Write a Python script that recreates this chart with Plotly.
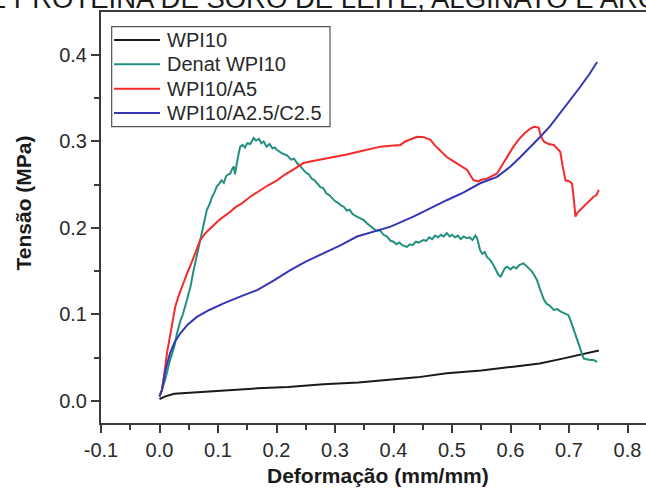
import plotly.graph_objects as go

# ---------------- data ----------------
wpi10_x = [0.000, 0.010, 0.025, 0.047, 0.080, 0.120, 0.167, 0.220, 0.280, 0.340, 0.395,
           0.440, 0.491, 0.550, 0.605, 0.650, 0.691, 0.720, 0.751]
wpi10_y = [0.002, 0.005, 0.008, 0.009, 0.011, 0.0125, 0.0143, 0.016, 0.019, 0.021, 0.024,
           0.027, 0.0317, 0.035, 0.0394, 0.043, 0.049, 0.053, 0.058]

denat_x = [0.000, 0.004, 0.010, 0.018, 0.025, 0.030, 0.036, 0.040, 0.045, 0.050, 0.053, 0.058,
           0.062, 0.066, 0.070, 0.075, 0.081, 0.086, 0.090, 0.094, 0.098, 0.102, 0.106, 0.110,
           0.114, 0.118, 0.121, 0.124, 0.127, 0.129, 0.132, 0.135, 0.138, 0.142, 0.146, 0.150,
           0.155, 0.161, 0.165, 0.170, 0.174, 0.178, 0.183, 0.188, 0.193, 0.197, 0.201, 0.210,
           0.218, 0.225, 0.230, 0.235, 0.240, 0.245, 0.250, 0.255, 0.260, 0.265, 0.269, 0.275,
           0.280, 0.285, 0.290, 0.295, 0.300, 0.305, 0.310, 0.315, 0.320, 0.325, 0.330, 0.335,
           0.340, 0.345, 0.349, 0.355, 0.360, 0.365, 0.370, 0.377, 0.383, 0.389, 0.395, 0.400,
           0.405, 0.410, 0.415, 0.423, 0.428, 0.433, 0.438, 0.443, 0.451, 0.456, 0.461, 0.466,
           0.471, 0.476, 0.481, 0.486, 0.491, 0.496, 0.500, 0.505, 0.510, 0.515, 0.520, 0.525,
           0.530, 0.535, 0.540, 0.543, 0.546, 0.548, 0.552, 0.556, 0.560, 0.565, 0.570, 0.575,
           0.579, 0.583, 0.587, 0.590, 0.594, 0.600, 0.605, 0.610, 0.615, 0.622, 0.627, 0.632,
           0.636, 0.640, 0.645, 0.650, 0.654, 0.657, 0.662, 0.667, 0.674, 0.680, 0.686, 0.693,
           0.699, 0.703, 0.707, 0.711, 0.714, 0.718, 0.722, 0.725, 0.730, 0.736, 0.742, 0.748]
denat_y = [0.005, 0.012, 0.025, 0.047, 0.062, 0.078, 0.093, 0.100, 0.112, 0.124, 0.132, 0.150,
           0.163, 0.172, 0.186, 0.205, 0.221, 0.228, 0.236, 0.241, 0.248, 0.251, 0.255, 0.252,
           0.260, 0.262, 0.263, 0.268, 0.271, 0.262, 0.276, 0.285, 0.294, 0.296, 0.293, 0.298,
           0.297, 0.304, 0.301, 0.303, 0.298, 0.300, 0.294, 0.297, 0.292, 0.293, 0.290, 0.286,
           0.284, 0.279, 0.280, 0.275, 0.272, 0.268, 0.264, 0.262, 0.257, 0.255, 0.252, 0.247,
           0.246, 0.240, 0.238, 0.234, 0.231, 0.229, 0.226, 0.2245, 0.220, 0.221, 0.216, 0.214,
           0.212, 0.210, 0.209, 0.205, 0.202, 0.199, 0.197, 0.197, 0.192, 0.190, 0.185, 0.184,
           0.181, 0.183, 0.180, 0.178, 0.181, 0.180, 0.184, 0.183, 0.186, 0.185, 0.189, 0.187,
           0.191, 0.189, 0.192, 0.190, 0.194, 0.190, 0.192, 0.189, 0.191, 0.187, 0.190, 0.188,
           0.189, 0.186, 0.191, 0.188, 0.180, 0.174, 0.170, 0.172, 0.166, 0.163, 0.158, 0.151,
           0.146, 0.1435, 0.150, 0.153, 0.155, 0.152, 0.155, 0.153, 0.157, 0.159, 0.156, 0.153,
           0.150, 0.146, 0.140, 0.130, 0.122, 0.117, 0.112, 0.110, 0.105, 0.106, 0.103, 0.101,
           0.099, 0.092, 0.084, 0.076, 0.070, 0.062, 0.054, 0.049, 0.048, 0.047, 0.047, 0.045]

a5_x = [0.000, 0.004, 0.008, 0.0128, 0.018, 0.022, 0.027, 0.033, 0.040, 0.047, 0.055, 0.062,
        0.0697, 0.080, 0.090, 0.100, 0.1096, 0.120, 0.130, 0.140, 0.155, 0.170, 0.185, 0.201,
        0.215, 0.230, 0.246, 0.260, 0.275, 0.290, 0.303, 0.320, 0.340, 0.360, 0.3775, 0.395,
        0.412, 0.420, 0.430, 0.440, 0.452, 0.463, 0.470, 0.480, 0.491, 0.500, 0.510, 0.520,
        0.526, 0.532, 0.537, 0.545, 0.552, 0.560, 0.570, 0.577, 0.585, 0.595, 0.605, 0.615,
        0.625, 0.634, 0.640, 0.648, 0.652, 0.657, 0.665, 0.674, 0.680, 0.685, 0.689, 0.694,
        0.700, 0.705, 0.708, 0.711, 0.715, 0.719, 0.725, 0.730, 0.736, 0.742, 0.747, 0.751]
a5_y = [0.005, 0.012, 0.030, 0.055, 0.075, 0.092, 0.109, 0.122, 0.135, 0.147, 0.160, 0.172,
        0.186, 0.195, 0.202, 0.208, 0.213, 0.218, 0.224, 0.228, 0.236, 0.243, 0.249, 0.255,
        0.262, 0.268, 0.275, 0.277, 0.279, 0.281, 0.282, 0.285, 0.288, 0.291, 0.294, 0.295,
        0.296, 0.300, 0.303, 0.3055, 0.305, 0.302, 0.296, 0.289, 0.282, 0.278, 0.274, 0.270,
        0.267, 0.260, 0.255, 0.254, 0.256, 0.257, 0.260, 0.263, 0.272, 0.283, 0.294, 0.303,
        0.310, 0.315, 0.317, 0.316, 0.306, 0.300, 0.297, 0.296, 0.292, 0.288, 0.272, 0.255,
        0.254, 0.2516, 0.235, 0.213, 0.218, 0.2207, 0.225, 0.229, 0.232, 0.236, 0.238, 0.244]

a25c25_x = [0.000, 0.004, 0.010, 0.018, 0.026, 0.0356, 0.048, 0.064, 0.085, 0.1096, 0.140,
            0.167, 0.195, 0.2236, 0.250, 0.280, 0.310, 0.3376, 0.3775, 0.395, 0.434, 0.460,
            0.491, 0.520, 0.548, 0.577, 0.600, 0.617, 0.635, 0.651, 0.668, 0.685, 0.702,
            0.719, 0.735, 0.748]
a25c25_y = [0.005, 0.012, 0.035, 0.055, 0.068, 0.078, 0.088, 0.097, 0.105, 0.1127, 0.121,
            0.128, 0.139, 0.151, 0.161, 0.1706, 0.180, 0.190, 0.1976, 0.2014, 0.213, 0.222,
            0.232, 0.241, 0.2516, 0.259, 0.271, 0.282, 0.294, 0.3055, 0.318, 0.3326, 0.347,
            0.363, 0.378, 0.392]

series_names = ["WPI10", "Denat WPI10", "WPI10/A5", "WPI10/A2.5/C2.5"]
x_ticks = [-0.1, 0.0, 0.1, 0.2, 0.3, 0.4, 0.5, 0.6, 0.7, 0.8]
x_tick_labels = ["-0.1", "0.0", "0.1", "0.2", "0.3", "0.4", "0.5", "0.6", "0.7", "0.8"]
y_ticks = [0.0, 0.1, 0.2, 0.3, 0.4]
y_tick_labels = ["0.0", "0.1", "0.2", "0.3", "0.4"]
top_text = "DE PROTEÍNA DE SORO DE LEITE, ALGINATO E ARGILA"

# ---------------- figure ----------------
FONT = "Liberation Sans, Arial, sans-serif"
colors = ["#1a1a1a", "#23907f", "#f52a2a", "#3636b4"]
xs = [wpi10_x, denat_x, a5_x, a25c25_x]
ys = [wpi10_y, denat_y, a5_y, a25c25_y]

fig = go.Figure()
for name, x, y, c in zip(series_names, xs, ys, colors):
    fig.add_trace(go.Scatter(x=x, y=y, mode="lines", name=name, showlegend=False,
                             line=dict(color=c, width=2)))

axis_common = dict(
    showline=True, linecolor="#3a3a3a", linewidth=2,
    ticks="outside", ticklen=8, tickwidth=1.5, tickcolor="#3a3a3a",
    showgrid=False, zeroline=False, automargin=False,
    tickfont=dict(family=FONT, size=20, color="#2a2a2a"),
)

fig.update_layout(
    width=646, height=492,
    margin=dict(l=101, r=0, t=12, b=69, autoexpand=False),
    paper_bgcolor="white", plot_bgcolor="white",
    showlegend=False,
    xaxis=dict(range=[-0.1, 0.8316], tickvals=x_ticks, ticktext=x_tick_labels, mirror=True,
               minor=dict(ticks="outside", ticklen=5, dtick=0.05, tick0=0,
                          tickcolor="#3a3a3a", tickwidth=1.5),
               **axis_common),
    yaxis=dict(range=[-0.0258, 0.4498], tickvals=y_ticks, ticktext=y_tick_labels,
               minor=dict(ticks="outside", ticklen=5, dtick=0.05, tick0=0,
                          tickcolor="#3a3a3a", tickwidth=1.5),
               **axis_common),
)

# legend box (drawn in paper coordinates)
fig.add_shape(type="rect", xref="paper", yref="paper", x0=0.0196, x1=0.4202,
              y0=0.7209, y1=0.9642, line=dict(color="#555555", width=1.2),
              fillcolor="white", layer="above")
row_y = [0.9319, 0.8727, 0.8134, 0.7543]
for name, c, ry in zip(series_names, colors, row_y):
    fig.add_shape(type="line", xref="paper", yref="paper", x0=0.0239, x1=0.1083,
                  y0=ry, y1=ry, line=dict(color=c, width=2), layer="above")
    fig.add_annotation(text=name, xref="paper", yref="paper", x=0.1174, y=ry,
                       xanchor="left", yanchor="middle", showarrow=False,
                       font=dict(family=FONT, size=20, color="#2a2a2a"))

fig.add_annotation(text="<b>Deformação (mm/mm)</b>", xref="paper", yref="paper",
                   x=0.5083, y=-0.127, xanchor="center", yanchor="middle",
                   showarrow=False, font=dict(family=FONT, size=21, color="#1a1a1a"))
fig.add_annotation(text="<b>Tensão (MPa)</b>", xref="paper", yref="paper",
                   x=-0.1422, y=0.5353, xanchor="center", yanchor="middle", textangle=-90,
                   showarrow=False, font=dict(family=FONT, size=21, color="#1a1a1a"))
fig.add_annotation(text=top_text, xref="paper", yref="paper",
                   x=-0.2477, y=1.0328, xanchor="left", yanchor="middle",
                   showarrow=False, font=dict(family=FONT, size=27.5, color="#1a1a1a"))

fig.write_html("out.html", config={"displayModeBar": False},
               post_script="document.body.style.margin='0';document.body.style.overflow='hidden';")
